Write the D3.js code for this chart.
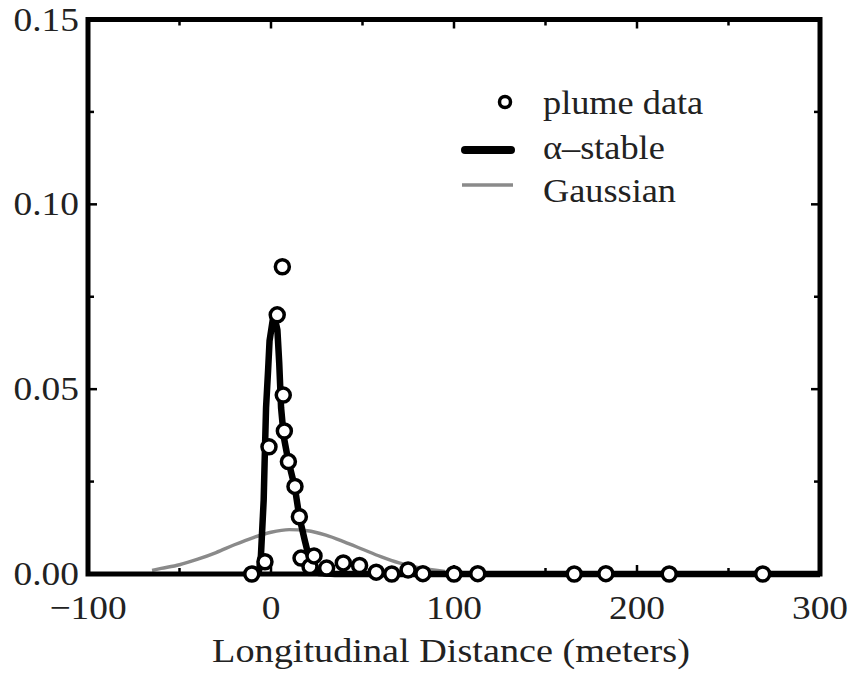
<!DOCTYPE html>
<html>
<head>
<meta charset="utf-8">
<script src="https://cdn.jsdelivr.net/npm/d3@7"></script>
<style>
  html, body { margin: 0; padding: 0; background: #fff; }
  text { font-family: "Liberation Serif", "Times New Roman", serif; fill: #222; }
</style>
</head>
<body>
<svg id="chart" width="850" height="674"></svg>
<script>
// ---- data ----
const plumeX = [-10.5, -3.3, -1.1, 3.4, 6.2, 6.7, 7.3, 9.5, 13.1, 15.5, 16.4, 21.3, 23.5, 30.4, 39.5, 48.4, 57.5, 66, 74.9, 83, 100, 113, 165.7, 183, 217.6, 268.7];
const plumeY = [0.0, 0.0033, 0.0344, 0.0701, 0.0831, 0.0484, 0.0387, 0.0304, 0.0237, 0.0155, 0.0043, 0.0020, 0.0049, 0.0016, 0.0030, 0.0023, 0.0005, 0.0, 0.0011, 0.0001, 0.0, 0.0001, 0.0, 0.0001, 0.0, 0.0];

const stableX = [-9, -6.5, -5.5, -5, -4, -3.5, -2.7, -1.6, -0.8, 1.5, 3.5, 4.5, 5.5, 7, 9.3, 13, 15.5, 18.5, 21, 23, 26, 35, 300];
const stableY = [0.0, 0.001, 0.005, 0.010, 0.020, 0.030, 0.045, 0.055, 0.063, 0.0705, 0.066, 0.057, 0.045, 0.037, 0.031, 0.0235, 0.0154, 0.009, 0.004, 0.0015, 0.0003, 0.0, 0.0];

const gaussX = [-65, -60, -50, -40, -30, -20, -10, 0, 10, 20, 30, 40, 50, 60, 70, 80, 90, 95];
const gaussY = [0.0010, 0.0015, 0.0025, 0.0040, 0.0058, 0.0079, 0.0098, 0.0113, 0.0120, 0.0117, 0.0105, 0.0087, 0.0067, 0.0047, 0.0030, 0.0018, 0.0010, 0.0007];

const xMajorTicks = [-100, 0, 100, 200, 300];
const xMinorTicks = [-50, 50, 150, 250];
const yMajorTicks = [0, 0.05, 0.10, 0.15];
const yMinorTicks = [0.025, 0.075, 0.125];
const xTitle = "Longitudinal Distance (meters)";
const legendLabels = ["plume data", "\u03b1\u2013stable", "Gaussian"];

// ---- layout ----
const svg = d3.select("#chart");
const L = 88, R = 820, T = 19.5, B = 574;
const x = d3.scaleLinear().domain([-100, 300]).range([L, R]);
const y = d3.scaleLinear().domain([0, 0.15]).range([B, T]);

function stretchedText(g, px, py, str, size, anchor, sx) {
  return g.append("text")
    .attr("transform", `translate(${px},${py}) scale(${sx || 1.1},1)`)
    .attr("text-anchor", anchor)
    .attr("font-size", size)
    .text(str);
}

// curves
svg.append("path")
  .datum(gaussX.map((v, i) => [v, gaussY[i]]))
  .attr("d", d3.line().x(d => x(d[0])).y(d => y(d[1])).curve(d3.curveMonotoneX))
  .attr("fill", "none").attr("stroke", "#8a8a8a").attr("stroke-width", 3.4);

svg.append("path")
  .datum(stableX.map((v, i) => [v, stableY[i]]))
  .attr("d", d3.line().x(d => x(d[0])).y(d => y(d[1])))
  .attr("fill", "none").attr("stroke", "#000").attr("stroke-width", 6.5)
  .attr("stroke-linejoin", "round");

// frame
svg.append("rect")
  .attr("x", L).attr("y", T).attr("width", R - L).attr("height", B - T)
  .attr("fill", "none").attr("stroke", "#000").attr("stroke-width", 5);

// ticks (inward on all four sides)
const tg = svg.append("g").attr("stroke", "#000").attr("stroke-width", 2.5);
function xTick(v, len) {
  tg.append("line").attr("x1", x(v)).attr("x2", x(v)).attr("y1", B).attr("y2", B - len);
  tg.append("line").attr("x1", x(v)).attr("x2", x(v)).attr("y1", T).attr("y2", T + len);
}
function yTick(v, len) {
  tg.append("line").attr("y1", y(v)).attr("y2", y(v)).attr("x1", L).attr("x2", L + len);
  tg.append("line").attr("y1", y(v)).attr("y2", y(v)).attr("x1", R).attr("x2", R - len);
}
xMajorTicks.forEach(v => xTick(v, 9));
xMinorTicks.forEach(v => xTick(v, 6));
yMajorTicks.forEach(v => yTick(v, 9));
yMinorTicks.forEach(v => yTick(v, 6));

// tick labels
const fmtX = d => (d < 0 ? "\u2212" + Math.abs(d) : String(d));
xMajorTicks.forEach(v => stretchedText(svg, x(v), 619, fmtX(v), 34, "middle"));
yMajorTicks.forEach(v => stretchedText(svg, 79, y(v) + 11, d3.format(".2f")(v), 34, "end"));

// axis title
stretchedText(svg, 451, 662, xTitle, 34, "middle", 1.125);

// data points
svg.append("g").selectAll("circle")
  .data(plumeX.map((v, i) => [v, plumeY[i]]))
  .join("circle")
  .attr("cx", d => x(d[0])).attr("cy", d => y(d[1]))
  .attr("r", 7)
  .attr("fill", "#fff").attr("stroke", "#000").attr("stroke-width", 3.5);

// legend
const lg = svg.append("g");
lg.append("circle").attr("cx", 505).attr("cy", 102).attr("r", 5.5)
  .attr("fill", "#fff").attr("stroke", "#000").attr("stroke-width", 3.5);
lg.append("line").attr("x1", 465).attr("x2", 511).attr("y1", 150).attr("y2", 150)
  .attr("stroke", "#000").attr("stroke-width", 8).attr("stroke-linecap", "round");
lg.append("line").attr("x1", 462).attr("x2", 513).attr("y1", 185).attr("y2", 185)
  .attr("stroke", "#8a8a8a").attr("stroke-width", 3.4);
stretchedText(lg, 543, 114, legendLabels[0], 33, "start");
stretchedText(lg, 543, 159, legendLabels[1], 33, "start");
stretchedText(lg, 543, 202, legendLabels[2], 33, "start");
</script>
</body>
</html>
